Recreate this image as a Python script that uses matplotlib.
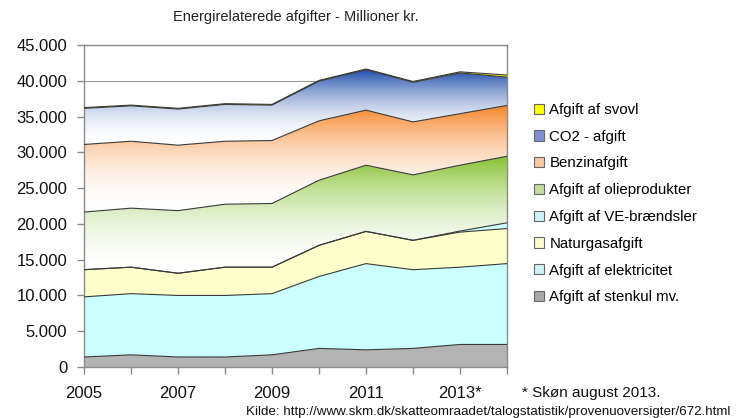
import matplotlib

matplotlib.use("Agg")
import matplotlib.pyplot as plt
import numpy as np
from matplotlib.colors import to_rgb
from matplotlib.patches import Patch, Polygon

plt.rcParams["font.family"] = ["Liberation Sans", "DejaVu Sans"]

# Data (million kr.)
years = [2005, 2006, 2007, 2008, 2009, 2010, 2011, 2012, 2013, 2014]
stenkul = [1400, 1700, 1400, 1400, 1700, 2600, 2400, 2600, 3150, 3150]
elektricitet = [8400, 8550, 8600, 8600, 8550, 10050, 12050, 11000, 10800, 11300]
naturgas = [3800, 3700, 3100, 3950, 3700, 4350, 4500, 4100, 4900, 4900]
ve_braendsler = [0, 0, 0, 0, 0, 0, 0, 0, 150, 800]
olieprodukter = [8050, 8250, 8750, 8800, 8900, 9100, 9250, 9150, 9200, 9300]
benzin = [9450, 9350, 9150, 8800, 8800, 8300, 7700, 7400, 7200, 7100]
co2 = [5050, 4950, 5050, 5150, 4950, 5550, 5650, 5550, 5700, 3950]
svovl = [100, 100, 100, 100, 100, 100, 100, 100, 150, 300]

labels = ["Afgift af stenkul mv.", "Afgift af elektricitet", "Naturgasafgift",
          "Afgift af VE-brændsler", "Afgift af olieprodukter", "Benzinafgift",
          "CO2 - afgift", "Afgift af svovl"]
series = [stenkul, elektricitet, naturgas, ve_braendsler, olieprodukter,
          benzin, co2, svovl]

# (top colour, gradient?) per layer, Excel-style fill towards white
fills = [("#b4b4b4", False), ("#ccffff", False), ("#ffffcc", False),
         ("#ccffff", False), ("#86c232", True), ("#f7862a", True),
         ("#1d4caa", True), ("#ffff00", False)]
legend_colors = ["#a8a8a8", "#ccf4f8", "#fbfbd0", "#ccf4f8", "#c2dca0",
                 "#f8c8a8", "#7890d0", "#ffff00"]

W, H = 736, 418
fig = plt.figure(figsize=(W / 100, H / 100), dpi=100)
ax = fig.add_axes([84 / W, 1 - 367 / H, 423 / W, 322 / H])

x = np.array(years, dtype=float)
lower = np.zeros(len(years))
for vals, (col, grad) in zip(series, fills):
    upper = lower + np.array(vals, dtype=float)
    verts = np.vstack([np.column_stack([x, upper]),
                       np.column_stack([x[::-1], lower[::-1]])])
    poly = Polygon(verts, closed=True, facecolor="none", edgecolor="none")
    ax.add_patch(poly)
    c = np.array(to_rgb(col))
    if grad:
        t = np.linspace(0, 1, 256) ** 2
    else:
        t = np.ones(256)
    img = 1 - (1 - c)[None, :] * t[:, None]
    img = np.repeat(img[:, None, :], 2, axis=1)
    im = ax.imshow(img, extent=[x[0], x[-1], lower.min(), upper.max()],
                   origin="lower", aspect="auto", zorder=1,
                   interpolation="bilinear")
    im.set_clip_path(poly)
    ax.plot(x, upper, color="#3a3a3a", lw=0.8, zorder=3)
    lower = upper

ax.set_xlim(2005, 2014)
ax.set_ylim(0, 45000)
ax.set_yticks(np.arange(0, 45001, 5000))
ax.set_yticklabels([f"{v:,.0f}".replace(",", ".") for v in range(0, 45001, 5000)])
ax.set_xticks(years)
ax.set_xticklabels(["2005", "", "2007", "", "2009", "", "2011", "", "2013*", ""])
ax.yaxis.grid(True, color="#9a9a9a", lw=0.8, zorder=0)
ax.set_axisbelow(True)
for s in ax.spines.values():
    s.set_color("#8a8a8a")
    s.set_linewidth(1.0)
ax.tick_params(axis="both", colors="#8a8a8a", labelcolor="#111111",
               labelsize=12, length=5, width=1)
ax.tick_params(axis="y", pad=7)
ax.tick_params(axis="x", length=5, pad=9)

ax.set_title("Energirelaterede afgifter - Millioner kr.", fontsize=10.5,
             color="#222222", pad=17)

handles = [Patch(facecolor=c, edgecolor="#666666", lw=0.8) for c in legend_colors]
leg = fig.legend(handles[::-1], labels[::-1], loc="upper left",
                 bbox_to_anchor=(528 / W, 1 - 97 / H), frameon=False,
                 fontsize=10.8, handlelength=0.67, handleheight=0.67,
                 handletextpad=0.35, labelspacing=0.85, borderaxespad=0)

fig.text(522 / W, 1 - 393 / H, "* Skøn august 2013.", fontsize=11,
         va="center", ha="left", color="#111111")
fig.text(730 / W, 1 - 412 / H,
         "Kilde: http://www.skm.dk/skatteomraadet/talogstatistik/provenuoversigter/672.html",
         fontsize=9.6, va="center", ha="right", color="#111111")

fig.savefig("out.png", dpi=100, facecolor="white")
